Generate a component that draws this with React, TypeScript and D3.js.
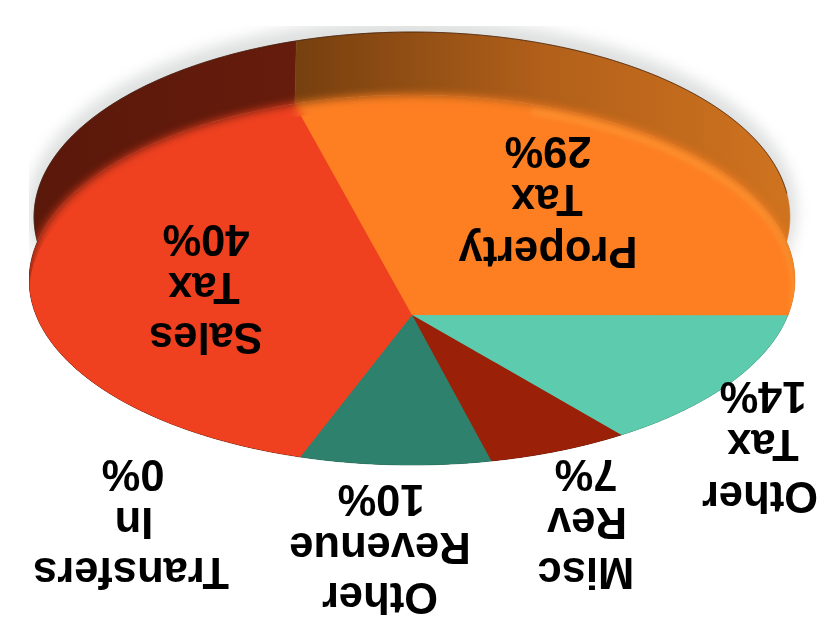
import React from "react";
import * as d3 from "d3";

const categories = ["Other Tax", "Misc Rev", "Other Revenue", "Transfers In", "Sales Tax", "Property Tax"];
const values = [14, 7, 9.7, 0, 40.2, 29.1];
const labelLines = [
  ["Other", "Tax", "14%"],
  ["Misc", "Rev", "7%"],
  ["Other", "Revenue", "10%"],
  ["Transfers", "In", "0%"],
  ["Sales", "Tax", "40%"],
  ["Property", "Tax", "29%"],
];
const colors = ["#5ccbae", "#9a2108", "#2e826d", "#2e826d", "#ef4120", "#fd7f22"];
const wallColors = ["#3c8a75", "#611608", "#1f5a4b", "#1f5a4b", "url(#wallRed)", "url(#wallOrange)"];

// layout (not data): label line centres
const labelLayout = [
  [[760, 497], [763, 445], [763, 397]],
  [[586, 573], [587, 523], [586, 475]],
  [[380, 598], [380, 548], [381, 500]],
  [[131, 573], [134, 523], [133, 475]],
  [[206, 338], [204, 288], [206, 240]],
  [[548, 252], [547, 200], [548, 152]],
];

const W = 840, H = 627;
const pivotX = 412, pivotY = 315;
const P = -0.189, A = 376, B = 178.4;
const WALL_DY = -63, WALL_SX = 0.987;

const xScale = d3.scaleLinear().domain([-1, 1]).range([pivotX - A, pivotX + A]);
const yScale = d3.scaleLinear().domain([-1, 1]).range([pivotY - B, pivotY + B]);

function project(theta: number, wall = false): [number, number] {
  const u = Math.cos(theta), v = Math.sin(theta);
  const d = 1 - P * v;
  const x = xScale(u / d);
  const y = yScale(v / d);
  return wall ? [pivotX + (x - pivotX) * WALL_SX, y + WALL_DY] : [x, y];
}

const pieGen = d3.pie<number>().sort(null).startAngle(0).endAngle(2 * Math.PI);
const arcs = pieGen(values);
const line = d3.line();

function sweep(a0: number, a1: number, wall = false) {
  const n = Math.max(2, Math.ceil((a1 - a0) / 0.01));
  return d3.range(n + 1).map((i) => project(a0 + ((a1 - a0) * i) / n, wall));
}
const slicePath = (a0: number, a1: number) =>
  line([[pivotX, pivotY], ...sweep(a0, a1)])! + "Z";
const wallPath = (a0: number, a1: number) =>
  line([...sweep(a0, a1), ...sweep(a0, a1, true).reverse()])! + "Z";

const surface = line(sweep(0, 2 * Math.PI))! + "Z";
const wallTop = line(sweep(0, 2 * Math.PI, true))! + "Z";
const rim = line(sweep(Math.PI * 1.0, Math.PI * 1.9, true))!;
const highlight = line(sweep((285 * Math.PI) / 180, (356 * Math.PI) / 180))!;
const fullStrip = wallPath(0, 2 * Math.PI);

const Slices = ({ fills }: { fills: string[] }) => (
  <>
    {arcs.map((a, i) => a.value > 0 && (
      <path key={i} d={slicePath(a.startAngle - 0.001, a.endAngle + 0.001)} fill={fills[i]} />
    ))}
  </>
);

export default function App() {
  return (
    <svg width={W} height={H} viewBox={`0 0 ${W} ${H}`} style={{ position: "absolute", left: 0, top: 0, background: "#fff" }}>
      <defs>
        <linearGradient id="wallOrange" gradientUnits="userSpaceOnUse" x1="300" x2="790" y1="0" y2="0">
          <stop offset="0" stopColor="#77400f" />
          <stop offset="0.5" stopColor="#b2601a" />
          <stop offset="1" stopColor="#cf731f" />
        </linearGradient>
        <linearGradient id="wallRed" gradientUnits="userSpaceOnUse" x1="30" x2="300" y1="0" y2="0">
          <stop offset="0" stopColor="#5a180a" />
          <stop offset="1" stopColor="#661c0c" />
        </linearGradient>
        <filter id="shadowBlur" x="-10%" y="-30%" width="120%" height="160%" colorInterpolationFilters="sRGB"><feGaussianBlur stdDeviation="7" /></filter>
        <filter id="edgeBlur" x="-10%" y="-20%" width="120%" height="140%" colorInterpolationFilters="sRGB"><feGaussianBlur stdDeviation="5" /></filter>
        <filter id="hiBlur" x="-10%" y="-30%" width="120%" height="160%" colorInterpolationFilters="sRGB"><feGaussianBlur stdDeviation="3" /></filter>
        <filter id="soft" x="0" y="0" width="100%" height="100%" colorInterpolationFilters="sRGB"><feGaussianBlur stdDeviation="0.6" /></filter>
        <clipPath id="surfaceClip"><path d={surface} /></clipPath>
        <clipPath id="hull"><path d={surface} /><path d={wallTop} /><path d={fullStrip} /></clipPath>
        <clipPath id="inner"><path d={surface} transform="translate(0,13)" /></clipPath>
      </defs>
      <g filter="url(#soft)">
        <path d={wallTop} transform="translate(0,-6)" fill="#dfe0e0" stroke="#dfe0e0" strokeWidth="14" filter="url(#shadowBlur)" />
        <Slices fills={wallColors} />
        {arcs.map((a, i) => a.value > 0 && (
          <path key={i} d={wallPath(a.startAngle, a.endAngle)} fill={wallColors[i]} stroke={wallColors[i]} strokeWidth="0.5" />
        ))}
        <path d={rim} fill="none" stroke="#3a1a08" strokeWidth="1" opacity="0.7" />
        <g clipPath="url(#hull)">
          <g filter="url(#edgeBlur)"><Slices fills={colors} /></g>
        </g>
        <g clipPath="url(#surfaceClip)">
          <g clipPath="url(#inner)"><Slices fills={colors} /></g>
          <path d={highlight} transform="translate(0,7)" fill="none" stroke="#ffa23c" strokeWidth="5" opacity="0.7" filter="url(#hiBlur)" />
        </g>
        <g fontFamily="'Liberation Sans', Arial, sans-serif" fontWeight="700" fontSize="43.5" fill="#000" textAnchor="middle">
          {categories.map((c, i) =>
            labelLines[i].map((t, j) => (
              <text key={c + j} transform={`translate(${labelLayout[i][j][0]},${labelLayout[i][j][1]}) rotate(180)`} y="15">{t}</text>
            ))
          )}
        </g>
      </g>
    </svg>
  );
}
